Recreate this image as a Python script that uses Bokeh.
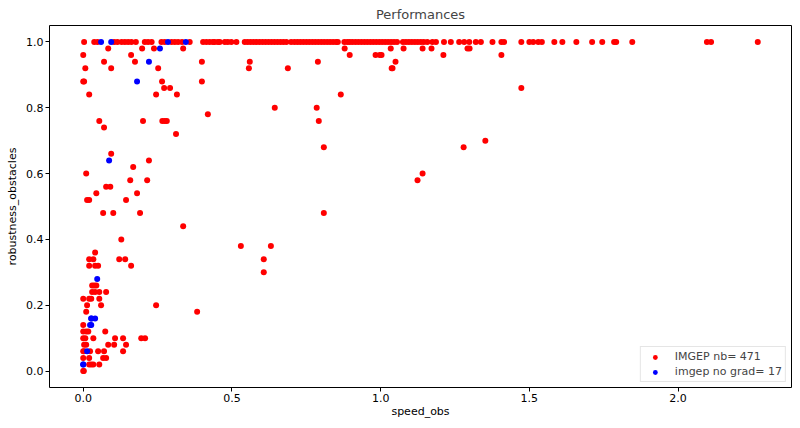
from bokeh.plotting import figure
from bokeh.models import Range1d, Legend, LegendItem, FixedTicker
from bokeh.embed import file_html
from bokeh.resources import INLINE

# IMGEP runs with robustness_obstacles == 1.0 (speed_obs values)
red_speed_full = [
    0.003, 0.037, 0.048, 0.104, 0.115, 0.129, 0.140, 0.151, 0.162, 0.177,
    0.207, 0.218, 0.230, 0.263, 0.274, 0.297, 0.308, 0.319, 0.332, 0.358,
    0.403, 0.414, 0.425, 0.436, 0.442, 0.453, 0.459, 0.476, 0.486, 0.498,
    0.515, 0.543, 0.553, 0.563, 0.573, 0.583, 0.593, 0.603, 0.613, 0.623,
    0.633, 0.643, 0.653, 0.663, 0.673, 0.683, 0.699, 0.710, 0.720, 0.730,
    0.740, 0.750, 0.760, 0.770, 0.780, 0.790, 0.800, 0.810, 0.820, 0.830,
    0.840, 0.850, 0.856, 0.878, 0.888, 0.896, 0.905, 0.915, 0.925, 0.935,
    0.945, 0.955, 0.965, 0.975, 0.985, 0.995, 1.005, 1.015, 1.025, 1.035,
    1.045, 1.055, 1.075, 1.085, 1.095, 1.105, 1.115, 1.125, 1.135, 1.145,
    1.157, 1.174, 1.186, 1.213, 1.236, 1.264, 1.281, 1.298, 1.320, 1.337,
    1.376, 1.406, 1.415, 1.473, 1.500, 1.513, 1.530, 1.542, 1.584, 1.611,
    1.658, 1.711, 1.745, 1.785, 1.792, 1.846, 2.097, 2.111, 2.268,
]

# IMGEP runs with robustness_obstacles < 1.0
red_speed = [
    0.084, 0.198, 0.238, 0.336, 0.879, 1.034, 1.077, 1.141, 1.171, 1.292, 1.299,
    0.000, 0.161, 0.896, 0.983, 0.997, 1.003, 1.211, 1.406,
    0.070, 0.174, 0.399, 0.560, 0.789, 1.050,
    0.007, 0.094, 0.252, 0.557, 0.688, 1.037, 1.040,
    0.000, 0.003, 0.265, 0.399,
    0.272, 0.292, 1.473,
    0.020, 0.245, 0.315, 0.866,
    0.644, 0.785,
    0.419,
    0.054, 0.201, 0.266, 0.274, 0.281, 0.792,
    0.070,
    0.312,
    1.352,
    0.809, 1.279,
    0.094,
    0.221,
    0.168,
    0.010, 1.141,
    0.158, 0.215, 1.124,
    0.077, 0.091,
    0.044, 0.181,
    0.013, 0.020, 0.144,
    0.067, 0.101, 0.191, 0.809,
    0.336,
    0.128,
    0.530, 0.631,
    0.040,
    0.020, 0.034, 0.121, 0.141, 0.607,
    0.020, 0.040, 0.050, 0.161,
    0.607,
    0.030, 0.037, 0.044,
    0.030, 0.040, 0.054, 0.077,
    0.000, 0.020, 0.027, 0.054,
    0.013, 0.060, 0.245,
    0.010, 0.383,
    0.000,
    0.000, 0.010, 0.017, 0.074,
    0.000, 0.007, 0.034, 0.107, 0.134, 0.195, 0.208,
    0.003, 0.010, 0.084, 0.104, 0.144,
    0.000, 0.003, 0.023, 0.050, 0.070, 0.134,
    0.000, 0.020, 0.067, 0.077,
    0.020, 0.027, 0.034, 0.054,
    0.000, 0.002,
]
red_robust = [
    0.98, 0.98, 0.98, 0.98, 0.98, 0.98, 0.98, 0.98, 0.98, 0.98, 0.98,
    0.96, 0.96, 0.96, 0.96, 0.96, 0.96, 0.96, 0.96,
    0.94, 0.94, 0.94, 0.94, 0.94, 0.94,
    0.92, 0.92, 0.92, 0.92, 0.92, 0.92, 0.92,
    0.88, 0.88, 0.88, 0.88,
    0.86, 0.86, 0.86,
    0.84, 0.84, 0.84, 0.84,
    0.80, 0.80,
    0.78,
    0.76, 0.76, 0.76, 0.76, 0.76, 0.76,
    0.74,
    0.72,
    0.70,
    0.68, 0.68,
    0.66,
    0.64,
    0.62,
    0.60, 0.60,
    0.58, 0.58, 0.58,
    0.56, 0.56,
    0.54, 0.54,
    0.52, 0.52, 0.52,
    0.48, 0.48, 0.48, 0.48,
    0.44,
    0.40,
    0.38, 0.38,
    0.36,
    0.34, 0.34, 0.34, 0.34, 0.34,
    0.32, 0.32, 0.32, 0.32,
    0.30,
    0.26, 0.26, 0.26,
    0.24, 0.24, 0.24, 0.24,
    0.22, 0.22, 0.22, 0.22,
    0.20, 0.20, 0.20,
    0.18, 0.18,
    0.14,
    0.12, 0.12, 0.12, 0.12,
    0.10, 0.10, 0.10, 0.10, 0.10, 0.10, 0.10,
    0.08, 0.08, 0.08, 0.08, 0.08,
    0.06, 0.06, 0.06, 0.06, 0.06, 0.06,
    0.04, 0.04, 0.04, 0.04,
    0.02, 0.02, 0.02, 0.02,
    0.00, 0.00,
]

# imgep without gradient
blue_speed = [0.060, 0.094, 0.285, 0.345, 0.258, 0.221, 0.181, 0.087,
              0.047, 0.027, 0.040, 0.023, 0.027, 0.013, 0.000, 0.000, 0.027]
blue_robust = [1.00, 1.00, 1.00, 1.00, 0.98, 0.94, 0.88, 0.64,
               0.28, 0.16, 0.16, 0.14, 0.14, 0.06, 0.02, 0.02, 0.16]

red_label = "IMGEP nb= 471"
blue_label = "imgep no grad= 17"
x_ticks = [0.0, 0.5, 1.0, 1.5, 2.0]
y_ticks = [0.0, 0.2, 0.4, 0.6, 0.8, 1.0]
x_min, x_max = -0.1134, 2.3814
y_min, y_max = -0.05, 1.05

all_red_x = red_speed_full + red_speed
all_red_y = [1.0] * len(red_speed_full) + red_robust

FONT = "DejaVu Sans"

p = figure(width=792, height=420, output_backend="svg", toolbar_location=None,
           x_range=Range1d(x_min, x_max), y_range=Range1d(y_min, y_max),
           min_border_left=49, min_border_right=1, min_border_top=24,
           min_border_bottom=33, title="Performances")
p.title.text_font = FONT
p.title.text_font_size = "13px"
p.title.text_font_style = "normal"
p.title.align = "center"
p.title.standoff = 8

p.xgrid.visible = False
p.ygrid.visible = False
p.outline_line_color = "black"
p.outline_line_width = 1
p.background_fill_color = "white"
p.border_fill_color = "white"

r_red = p.scatter(all_red_x, all_red_y, size=6, color="#ff0000", line_color=None)
r_blue = p.scatter(blue_speed, blue_robust, size=6, color="#0000ff", line_color=None)

for ax in (p.xaxis[0], p.yaxis[0]):
    ax.axis_line_color = None
    ax.minor_tick_line_color = None
    ax.major_tick_out = 4
    ax.major_tick_in = 0
    ax.major_tick_line_color = "black"
    ax.major_label_text_font = FONT
    ax.major_label_text_font_size = "11px"
    ax.major_label_text_color = "black"
    ax.axis_label_text_font = FONT
    ax.axis_label_text_font_size = "11px"
    ax.axis_label_text_font_style = "normal"
    ax.axis_label_text_color = "black"

p.xaxis.ticker = FixedTicker(ticks=x_ticks)
p.yaxis.ticker = FixedTicker(ticks=y_ticks)
p.xaxis.major_label_overrides = {t: f"{t:.1f}" for t in x_ticks}
p.yaxis.major_label_overrides = {t: f"{t:.1f}" for t in y_ticks}
p.xaxis.axis_label = "speed_obs"
p.yaxis.axis_label = "robustness_obstacles"
p.xaxis.major_label_standoff = 2
p.yaxis.major_label_standoff = 2
p.xaxis.axis_label_standoff = 0
p.yaxis.axis_label_standoff = 4

legend = Legend(items=[LegendItem(label=red_label, renderers=[r_red]),
                       LegendItem(label=blue_label, renderers=[r_blue])],
                location="bottom_right")
legend.label_text_font = FONT
legend.label_text_font_size = "11px"
legend.glyph_width = 22
legend.glyph_height = 12
legend.label_height = 12
legend.spacing = 2
legend.padding = 3
legend.margin = 5
legend.label_standoff = 9
legend.border_line_color = "#cccccc"
legend.background_fill_alpha = 0.8
p.add_layout(legend)

open("out.html", "w").write(file_html(p, INLINE))
